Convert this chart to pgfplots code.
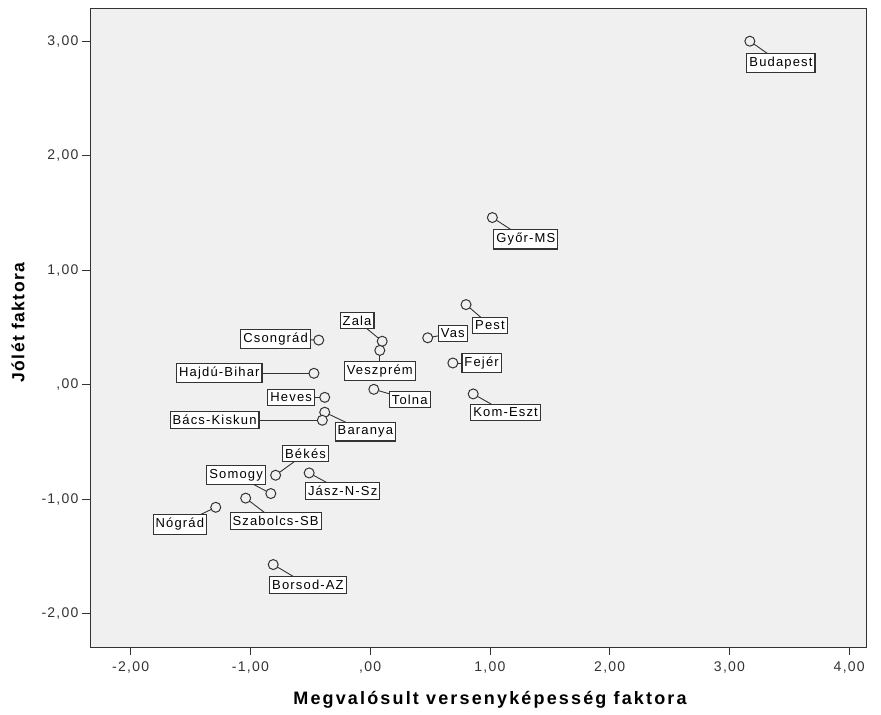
\documentclass[border=0pt]{standalone}
\usepackage{fontspec}
\setmainfont{Liberation Sans}[LetterSpace=9]
\newfontfamily\titlefont{Liberation Sans}[LetterSpace=12]
\newfontfamily\ytitlefont{Liberation Sans}[LetterSpace=8]
\usepackage{pgfplots}
\usepackage{pgfplotstable}
\pgfplotsset{compat=1.18}
\definecolor{plotbg}{HTML}{F0F0F0}
\definecolor{ink}{HTML}{333333}

% point position (x,y) and label box centre (lx,ly)
\pgfplotstableread{
x y lx ly label
3.17 3.00 3.43 2.81 Budapest
1.02 1.46 1.30 1.27 Győr-MS
0.80 0.70 1.00 0.52 Pest
0.48 0.41 0.69 0.45 Vas
0.69 0.19 0.93 0.19 Fejér
0.86 -0.08 1.13 -0.24 Kom-Eszt
0.10 0.38 -0.11 0.56 Zala
0.08 0.30 0.08 0.12 Veszprém
0.03 -0.04 0.33 -0.13 Tolna
-0.43 0.39 -0.79 0.40 Csongrád
-0.47 0.10 -1.26 0.10 Hajdú-Bihar
-0.38 -0.11 -0.66 -0.11 Heves
-0.38 -0.24 -0.04 -0.41 Baranya
-0.40 -0.31 -1.30 -0.31 Bács-Kiskun
-0.79 -0.79 -0.54 -0.60 Békés
-0.51 -0.77 -0.23 -0.93 Jász-N-Sz
-0.83 -0.95 -1.12 -0.79 Somogy
-1.04 -0.99 -0.79 -1.19 Szabolcs-SB
-1.29 -1.07 -1.59 -1.22 Nógrád
-0.81 -1.57 -0.52 -1.75 Borsod-AZ
}\megyek

\begin{document}
\begin{tikzpicture}
\begin{axis}[
  scale only axis, width=776pt, height=639pt,
  xmin=-2.34, xmax=4.14, ymin=-2.29, ymax=3.29,
  axis background/.style={fill=plotbg},
  axis line style={ink, line width=0.9pt},
  tick align=outside, tick pos=left,
  major tick length=8pt,
  tick style={ink, line width=0.9pt},
  xtick={-2,-1,0,1,2,3,4},
  xticklabels={{-2,00},{-1,00},{,00},{1,00},{2,00},{3,00},{4,00}},
  ytick={-2,-1,0,1,2,3},
  yticklabels={{-2,00},{-1,00},{,00},{1,00},{2,00},{3,00}},
  ticklabel style={font=\fontsize{14}{16}\selectfont, text=ink},
  xticklabel style={yshift=-3pt},
  xlabel={Megvalósult versenyképesség faktora},
  ylabel={Jólét faktora},
  xlabel style={font=\titlefont\fontsize{18}{20}\selectfont\bfseries,
    at={(axis description cs:0.5,0)}, anchor=center, yshift=-53pt, xshift=12pt},
  ylabel style={font=\ytitlefont\fontsize{17.5}{20}\selectfont\bfseries,
    at={(axis description cs:0,0.5)}, anchor=center, yshift=72pt, xshift=5pt},
  clip=false,
]
% leader lines
\addplot[ink, line width=0.9pt, no markers,
  quiver={u=\thisrow{lx}-\thisrow{x}, v=\thisrow{ly}-\thisrow{y}}]
  table[x=x, y=y] {\megyek};
% label boxes
\addplot[only marks, mark=none,
  nodes near coords, point meta=explicit symbolic,
  nodes near coords style={anchor=center, draw=ink, line width=1.1pt, fill=white,
    text=black, inner xsep=2.5pt, inner ysep=3.5pt, font=\fontsize{13}{15}\selectfont}]
  table[x=lx, y=ly, meta=label] {\megyek};
% points
\addplot[only marks, mark=*, mark size=5pt,
  mark options={draw=ink, fill=plotbg, line width=1pt}]
  table[x=x, y=y] {\megyek};
\end{axis}
\path[use as bounding box] ([xshift=-90pt, yshift=-67pt]current axis.south west)
  rectangle ([xshift=15pt, yshift=8pt]current axis.north east);
\end{tikzpicture}
\end{document}
